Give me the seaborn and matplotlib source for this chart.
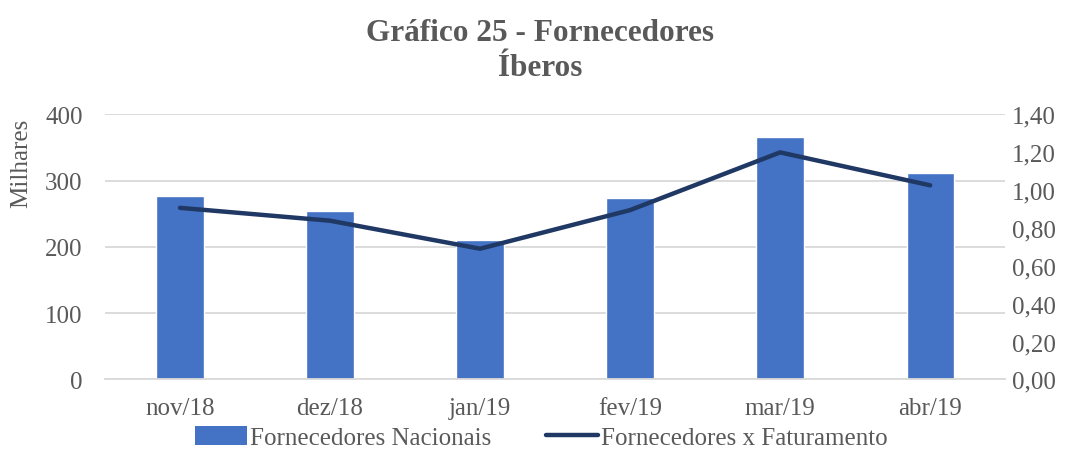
import matplotlib
matplotlib.use("Agg")
import matplotlib.pyplot as plt
import seaborn as sns
import pandas as pd
from matplotlib.lines import Line2D
from matplotlib.patches import Patch
from matplotlib.ticker import FuncFormatter

months = ["nov/18", "dez/18", "jan/19", "fev/19", "mar/19", "abr/19"]
fornecedores_nacionais = [276, 254, 210, 274, 366, 312]
fornecedores_x_faturamento = [0.906, 0.838, 0.690, 0.894, 1.199, 1.025]

sns.set_theme(style="white")
plt.rcParams['font.family'] = ['Liberation Serif', 'DejaVu Serif']

df = pd.DataFrame({"mes": months, "nac": fornecedores_nacionais, "fat": fornecedores_x_faturamento})

txt = "#595959"
grid = "#D9D9D9"
bar_c = "#4472C4"
line_c = "#203864"
fs = 18

fig = plt.figure(figsize=(10.82, 4.77), dpi=100)
ax = fig.add_axes([0.097, 0.2027, 0.832, 0.5555])
sns.barplot(data=df, x="mes", y="nac", color=bar_c, width=0.315, saturation=1, ax=ax, zorder=2)
ax.set_ylim(0, 400)
ax.set_yticks([0, 100, 200, 300, 400])
ax.yaxis.grid(True, color=grid, linewidth=1.3, zorder=0)
ax.set_axisbelow(True)
ax.set_xlim(-0.5, 5.5)
for s in ["top", "right", "left"]:
    ax.spines[s].set_visible(False)
ax.spines["bottom"].set_color(grid)
ax.spines["bottom"].set_linewidth(1.3)
ax.set_xlabel("")
ax.set_ylabel("Milhares", fontsize=fs, color=txt)
ax.yaxis.set_label_coords(-0.081, 0.82)
ax.tick_params(axis="y", length=0, labelsize=fs, labelcolor=txt, pad=16)
ax.tick_params(axis="x", length=0, labelsize=fs, labelcolor=txt, pad=13)
ax.set_xticks([x - 0.5 for x in range(7)], minor=True)
ax.tick_params(axis="x", which="minor", length=6, color=grid, width=1.3, direction="out")

ax2 = ax.twinx()
sns.lineplot(data=df, x="mes", y="fat", color=line_c, linewidth=3.2, ax=ax2, sort=False,
             solid_capstyle="round", zorder=3)
ax2.set_ylim(0, 1.4)
ax2.set_yticks([0, 0.2, 0.4, 0.6, 0.8, 1.0, 1.2, 1.4])
ax2.yaxis.set_major_formatter(FuncFormatter(lambda v, p: f"{v:.2f}".replace(".", ",")))
ax2.tick_params(axis="y", length=0, labelsize=fs, labelcolor=txt, pad=5)
ax2.set_ylabel("")
ax2.set_xlabel("")
for s in ax2.spines.values():
    s.set_visible(False)
ax2.grid(False)

fig.text(0.499, 0.93, "Gráfico 25 - Fornecedores", ha="center", va="center",
         fontsize=22.5, fontweight="bold", color=txt)
fig.text(0.499, 0.857, "Íberos", ha="center", va="center",
         fontsize=22.5, fontweight="bold", color=txt)

handles = [Patch(facecolor=bar_c, edgecolor="none"),
           Line2D([0], [0], color=line_c, linewidth=3.2)]
labels = ["Fornecedores Nacionais", "Fornecedores x Faturamento"]
fig.legend(handles, labels, loc="center", bbox_to_anchor=(0.5, 0.08), ncol=2, frameon=False,
           fontsize=fs, labelcolor=txt, handlelength=2.1, handleheight=0.8,
           handletextpad=0.1, columnspacing=2.2)

fig.savefig("out.png", dpi=100)
